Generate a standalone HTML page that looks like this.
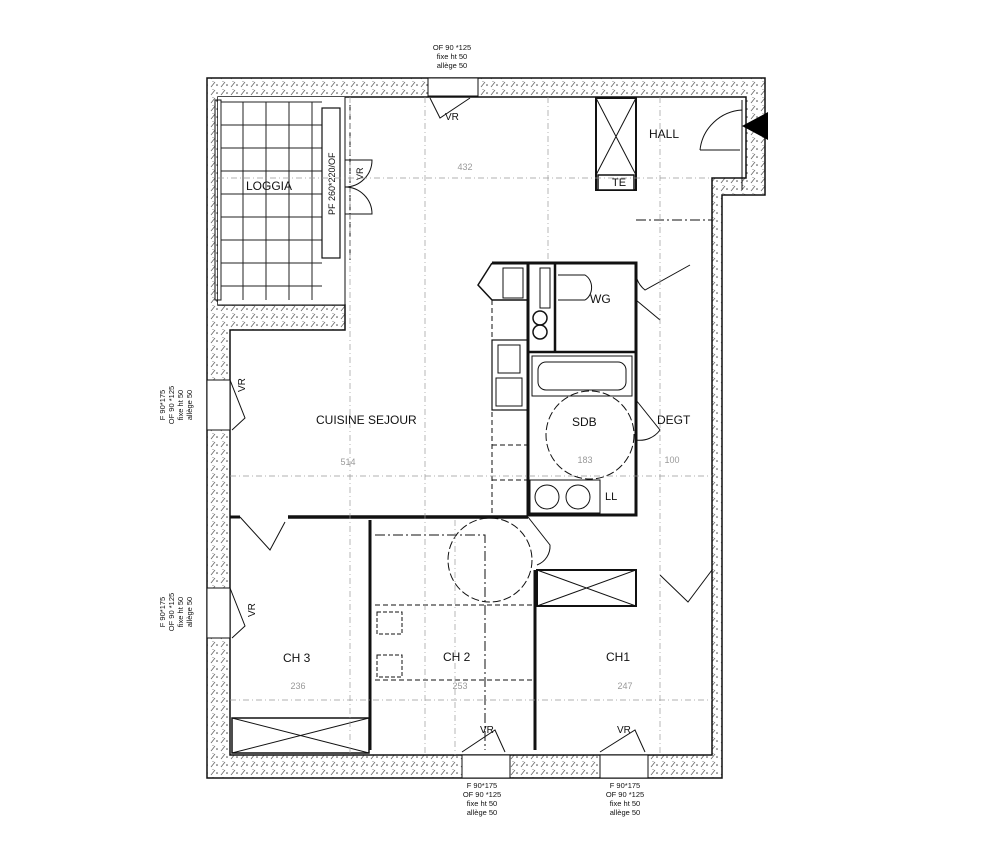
<!DOCTYPE html>
<html><head><meta charset="utf-8"><style>
html,body{margin:0;padding:0;background:#fff;}
svg{display:block;}
text{font-family:"Liberation Sans",sans-serif;}
</style></head><body>
<svg width="1000" height="857" viewBox="0 0 1000 857" xmlns="http://www.w3.org/2000/svg">
<defs>
<pattern id="hatch" width="10" height="8" patternUnits="userSpaceOnUse">
<rect width="10" height="8" fill="#fff"/>
<path d="M1 7L5 2" stroke="#666" stroke-width="0.8"/>
<circle cx="7" cy="5" r="0.8" fill="#444"/>
<circle cx="3" cy="1.5" r="0.5" fill="#666"/>
</pattern>
</defs>
<g fill="none" stroke="#111">
<path d="M207 78 H765 V195 H722 V778 H207 Z" fill="url(#hatch)" stroke-width="1.5"/>
<path d="M218 97 H746 V178 H712 V755 H230 V330 H345 V305 H218 Z" fill="#fff" stroke-width="1.5"/>
<rect x="218" y="97" width="127" height="208" fill="#fff" stroke="none"/>
<path d="M218 305 H345 M345 97 V330" stroke-width="1"/>
<rect x="215" y="100" width="6" height="200" stroke-width="1"/>
<g stroke="#222" stroke-width="1">
<path d="M221 102 V300 M243 102 V300 M266 102 V300 M289 102 V300 M312 102 V300"/>
<path d="M221 102 H322 M221 125 H322 M221 148 H322 M221 171 H322 M221 194 H322 M221 217 H322 M221 240 H322 M221 263 H322 M221 286 H322"/>
</g>
<rect x="322" y="108" width="18" height="150" fill="#fff" stroke-width="1.2"/>
<rect x="428" y="78" width="50" height="18" fill="#fff" stroke-width="1"/>
<path d="M430 98 L440 118 L470 98" stroke-width="1"/>
<path d="M345 160 H372 A27 27 0 0 1 345 187 M345 187 A27 27 0 0 1 372 214 H345" stroke-width="1"/>
<path d="M350 105 V260" stroke-dasharray="6 3" stroke-width="1"/>
<rect x="596" y="98" width="40" height="92" stroke-width="2"/>
<path d="M596 98 L636 175 M636 98 L596 175" stroke-width="1"/>
<rect x="598" y="175" width="36" height="15" fill="#fff" stroke-width="1.5"/>
<path d="M742 100 V190 M742 110 A45 45 0 0 0 700 150" stroke-width="1"/>
<path d="M700 150 H740" stroke-width="1"/>
<path d="M636 220 H712" stroke-dasharray="10 3 2 3" stroke-width="1"/>
<path d="M492 263 H636 V515 H528 V263" stroke-width="3"/>
<path d="M528 352 H636 M555 263 V352" stroke-width="2.5"/>
<path d="M492 263 L478 285 L492 300 H528" stroke-width="1.5"/>
<rect x="503" y="268" width="20" height="30" stroke-width="1"/>
<rect x="540" y="268" width="10" height="40" stroke-width="1"/>
<circle cx="540" cy="318" r="7" stroke-width="1.5"/>
<circle cx="540" cy="332" r="7" stroke-width="1.5"/>
<path d="M558 275 H585 A12 14 0 0 1 585 300 H558" stroke-width="1"/>
<rect x="532" y="356" width="100" height="40" stroke-width="1"/>
<rect x="538" y="362" width="88" height="28" rx="8" stroke-width="1"/>
<circle cx="590" cy="435" r="44" stroke-dasharray="8 3" stroke-width="1"/>
<rect x="530" y="480" width="70" height="33" stroke-width="1"/>
<circle cx="547" cy="497" r="12" stroke-width="1"/>
<circle cx="578" cy="497" r="12" stroke-width="1"/>
<path d="M600 480 V513" stroke-width="1"/>
<rect x="492" y="340" width="36" height="70" stroke-width="1.2"/>
<rect x="496" y="378" width="26" height="28" stroke-width="1"/>
<rect x="498" y="345" width="22" height="28" stroke-width="1"/>
<path d="M492 300 V515 M492 445 H528 M492 480 H528" stroke-dasharray="5 3" stroke-width="1"/>
<path d="M636 400 L660 430 A25 25 0 0 1 636 440" stroke-width="1"/>
<path d="M636 300 L660 320 M636 265 A25 25 0 0 0 645 290 L690 265" stroke-width="1"/>
<path d="M288 517 H528" stroke-width="3.5"/>
<path d="M230 517 H240 M370 520 V750 M535 570 V750" stroke-width="3"/>
<path d="M240 517 L270 550 L285 522" stroke-width="1"/>
<rect x="537" y="570" width="99" height="36" stroke-width="2"/>
<path d="M537 570 L636 606 M636 570 L537 606" stroke-width="1"/>
<path d="M528 517 L550 545 A20 20 0 0 1 537 565" stroke-width="1"/>
<path d="M660 575 L688 602 L712 570" stroke-width="1"/>
<circle cx="490" cy="560" r="42" stroke-dasharray="8 3" stroke-width="1"/>
<path d="M375 535 H485 V750" stroke-dasharray="10 3 2 3" stroke-width="1"/>
<path d="M375 605 H535 M375 680 H535" stroke-dasharray="5 3" stroke-width="1"/>
<rect x="377" y="612" width="25" height="22" stroke-dasharray="4 2" stroke-width="1"/>
<rect x="377" y="655" width="25" height="22" stroke-dasharray="4 2" stroke-width="1"/>
<rect x="232" y="718" width="137" height="35" stroke-width="1.5"/>
<path d="M232 718 L369 753 M369 718 L232 753" stroke-width="1"/>
<rect x="207" y="380" width="23" height="50" fill="#fff" stroke-width="1"/>
<path d="M230 380 L245 418 L232 430" stroke-width="1"/>
<rect x="207" y="588" width="23" height="50" fill="#fff" stroke-width="1"/>
<path d="M230 588 L245 626 L232 638" stroke-width="1"/>
<rect x="462" y="755" width="48" height="23" fill="#fff" stroke-width="1"/>
<path d="M462 752 L495 730 L505 752" stroke-width="1"/>
<rect x="600" y="755" width="48" height="23" fill="#fff" stroke-width="1"/>
<path d="M600 752 L635 730 L645 752" stroke-width="1"/>
<g stroke="#999" stroke-width="0.7" stroke-dasharray="6 3 1 3">
<path d="M218 178 H712 M230 476 H712 M230 700 H712"/>
<path d="M350 97 V755 M425 97 V755 M548 97 V262 M455 520 V755 M660 97 V755"/>
</g>
</g>
<polygon points="768,112 768,140 742,126" fill="#000"/>
<g fill="#111" font-size="12">
<text x="246" y="190">LOGGIA</text>
<text x="649" y="138">HALL</text>
<text x="612" y="186" font-size="11">TE</text>
<text x="590" y="303" font-size="12">WG</text>
<text x="572" y="426">SDB</text>
<text x="657" y="424">DEGT</text>
<text x="316" y="424">CUISINE SEJOUR</text>
<text x="605" y="500" font-size="11">LL</text>
<text x="283" y="662">CH 3</text>
<text x="443" y="661">CH 2</text>
<text x="606" y="661">CH1</text>
<text x="245" y="392" font-size="10" transform="rotate(-90 245 392)">VR</text>
<text x="250" y="612" font-size="10" transform="rotate(-90 255 612)">VR</text>
<text x="445" y="120" font-size="10">VR</text>
<text x="480" y="733" font-size="10">VR</text>
<text x="617" y="733" font-size="10">VR</text>
<text x="363" y="180" font-size="9" transform="rotate(-90 363 180)">VR</text>
<text x="335" y="215" font-size="9" transform="rotate(-90 335 215)">PF 260*220/OF</text>
</g>
<g fill="#111" font-size="7.5" text-anchor="middle">
<text x="452" y="50">OF 90 *125</text><text x="452" y="59">fixe ht 50</text><text x="452" y="68">allège 50</text>
<text x="482" y="788">F 90*175</text><text x="482" y="797">OF 90 *125</text><text x="482" y="806">fixe ht 50</text><text x="482" y="815">allège 50</text>
<text x="625" y="788">F 90*175</text><text x="625" y="797">OF 90 *125</text><text x="625" y="806">fixe ht 50</text><text x="625" y="815">allège 50</text>
<g transform="rotate(-90 190 405)"><text x="190" y="380">F 90*175</text><text x="190" y="389">OF 90 *125</text><text x="190" y="398">fixe ht 50</text><text x="190" y="407">allège 50</text></g>
<g transform="rotate(-90 190 612)"><text x="190" y="587">F 90*175</text><text x="190" y="596">OF 90 *125</text><text x="190" y="605">fixe ht 50</text><text x="190" y="614">allège 50</text></g>
</g>
<g fill="#999" font-size="9" text-anchor="middle">
<text x="465" y="170">432</text><text x="348" y="465">514</text><text x="585" y="463">183</text>
<text x="672" y="463">100</text><text x="298" y="689">236</text><text x="460" y="689">253</text><text x="625" y="689">247</text>
</g>
</svg>
</body></html>
